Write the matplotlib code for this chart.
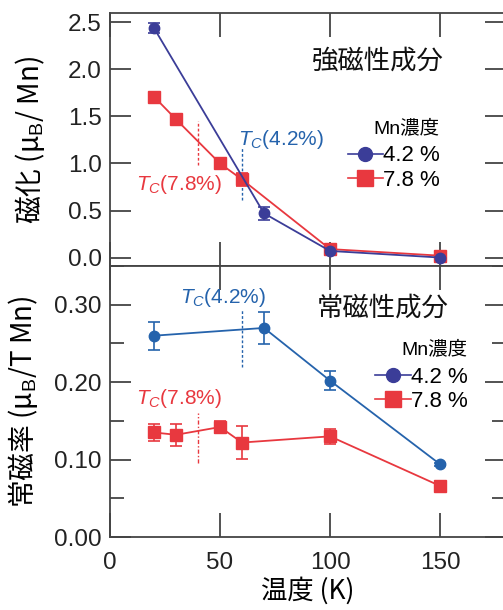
import matplotlib
matplotlib.use("Agg")
import matplotlib.pyplot as plt
from matplotlib.lines import Line2D
from matplotlib.ticker import MultipleLocator

plt.rcParams["font.family"] = ["Liberation Sans", "Noto Sans CJK JP", "DejaVu Sans"]
plt.rcParams["mathtext.fontset"] = "custom"
plt.rcParams["mathtext.it"] = "Liberation Sans:italic"
plt.rcParams["mathtext.rm"] = "Liberation Sans"

# data
labels = ["4.2 %", "7.8 %"]
legend_title = "Mn濃度"

# magnetisation (ferromagnetic component)
t_mag_42 = [20, 70, 100, 150]
m_42 = [2.44, 0.47, 0.07, 0.00]
m_42_err = [0.05, 0.07, 0.02, 0.01]
t_mag_78 = [20, 30, 50, 60, 100, 150]
m_78 = [1.71, 1.47, 1.00, 0.83, 0.09, 0.02]
m_78_err = [0.02, 0.02, 0.02, 0.07, 0.02, 0.01]

# susceptibility (paramagnetic component)
t_sus_42 = [20, 70, 100, 150]
chi_42 = [0.260, 0.270, 0.202, 0.094]
chi_42_err = [0.018, 0.021, 0.012, 0.002]
t_sus_78 = [20, 30, 50, 60, 100, 150]
chi_78 = [0.135, 0.132, 0.142, 0.122, 0.130, 0.066]
chi_78_err = [0.011, 0.014, 0.008, 0.021, 0.010, 0.004]

tc_42 = 60
tc_78 = 40
tc_top_42 = (0.61, 1.16)
tc_top_78 = (0.98, 1.45)
tc_bot_42 = (0.219, 0.293)
tc_bot_78 = (0.095, 0.160)

INDIGO = "#3b3d98"
STEEL = "#2563ac"
RED = "#e8383f"
SPINE = "#444444"
CJK = ["Noto Sans CJK JP", "DejaVu Sans"]

W, H = 503, 610
fig = plt.figure(figsize=(W / 100, H / 100), dpi=100)

left = 110 / W
width = 396 / W
ax1 = fig.add_axes([left, 1 - 266 / H, width, 253 / H])
ax2 = fig.add_axes([left, 1 - 537 / H, width, 271 / H])


def style_axes(ax):
    for s in ax.spines.values():
        s.set_color(SPINE)
        s.set_linewidth(1.3)
    ax.tick_params(which="both", direction="in", top=True, right=True,
                   color=SPINE, width=1.3, labelsize=17.5, labelcolor="#222222")
    ax.tick_params(axis="y", which="major", length=15, pad=6)
    ax.tick_params(axis="y", which="minor", length=10)
    ax.tick_params(axis="x", which="major", length=17, pad=11)
    ax.set_xlim(0, 180)
    ax.xaxis.set_major_locator(MultipleLocator(50))


def draw(ax, x, y, err, color, marker, ms):
    ax.errorbar(x, y, yerr=err, color=color, marker=marker, ms=ms, lw=1.3,
                capsize=4, elinewidth=1.2, capthick=1.2, zorder=3)


# top panel
style_axes(ax1)
draw(ax1, t_mag_78, m_78, m_78_err, RED, "s", 8)
draw(ax1, t_mag_42, m_42, m_42_err, INDIGO, "o", 7.5)
ax1.set_ylim(-0.09, 2.6)
ax1.yaxis.set_major_locator(MultipleLocator(0.5))
ax1.yaxis.set_major_formatter(lambda v, p: f"{v:.1f}")
ax1.tick_params(axis="x", labelbottom=False)
ax1.vlines(tc_78, *tc_top_78, colors=RED, linestyles=(0, (2, 1.5)), lw=1)
ax1.vlines(tc_42, *tc_top_42, colors=STEEL, linestyles=(0, (2, 1.5)), lw=1)
ax1.text(58, 1.26, r"$T_C$(4.2%)", color=STEEL, fontsize=15, va="center")
ax1.text(12, 0.78, r"$T_C$(7.8%)", color=RED, fontsize=15, va="center")
ax1.text(0.843, 0.81, "強磁性成分", transform=ax1.transAxes, fontsize=19,
         ha="right", va="center", family=CJK, color="#111111")
ax1.set_ylabel("磁化 (μ$_\\mathrm{B}$/ Mn)", fontsize=20, labelpad=15, family=CJK)

handles = [
    Line2D([], [], color=INDIGO, marker="o", ms=10, lw=1.2),
    Line2D([], [], color=RED, marker="s", ms=11, lw=1.2),
]


def legend(ax, loc):
    lg = ax.legend(handles, labels, title=legend_title, loc="upper left",
                   bbox_to_anchor=loc, frameon=False, fontsize=16,
                   handlelength=1.6, handletextpad=0.0, labelspacing=0.15,
                   borderpad=0, borderaxespad=0, alignment="right",
                   title_fontproperties={"size": 14,
                                         "family": ["Liberation Sans", "Noto Sans CJK JP"]})
    lg._legend_box.sep = 6
    return lg


legend(ax1, (0.6, 0.58))

# bottom panel
style_axes(ax2)
draw(ax2, t_sus_78, chi_78, chi_78_err, RED, "s", 8)
draw(ax2, t_sus_42, chi_42, chi_42_err, STEEL, "o", 7.5)
ax2.set_ylim(0, 0.35)
ax2.yaxis.set_major_locator(MultipleLocator(0.1))
ax2.yaxis.set_minor_locator(MultipleLocator(0.05))
ax2.yaxis.set_major_formatter(lambda v, p: f"{v:.2f}")
ax2.vlines(tc_78, *tc_bot_78, colors=RED, linestyles=(0, (3, 1.5, 1, 1.5)), lw=1)
ax2.vlines(tc_42, *tc_bot_42, colors=STEEL, linestyles=(0, (2, 1.5)), lw=1)
ax2.text(32, 0.309, r"$T_C$(4.2%)", color=STEEL, fontsize=15, va="center")
ax2.text(12, 0.179, r"$T_C$(7.8%)", color=RED, fontsize=15, va="center")
ax2.text(0.854, 0.845, "常磁性成分", transform=ax2.transAxes, fontsize=19,
         ha="right", va="center", family=CJK, color="#111111")
ax2.set_ylabel("常磁率 (μ$_\\mathrm{B}$/T Mn)", fontsize=20, labelpad=10, family=CJK)
ax2.set_xlabel("温度 (K)", fontsize=19, labelpad=2, family=CJK)

legend(ax2, (0.67, 0.725))

fig.savefig("out.png", dpi=100)
